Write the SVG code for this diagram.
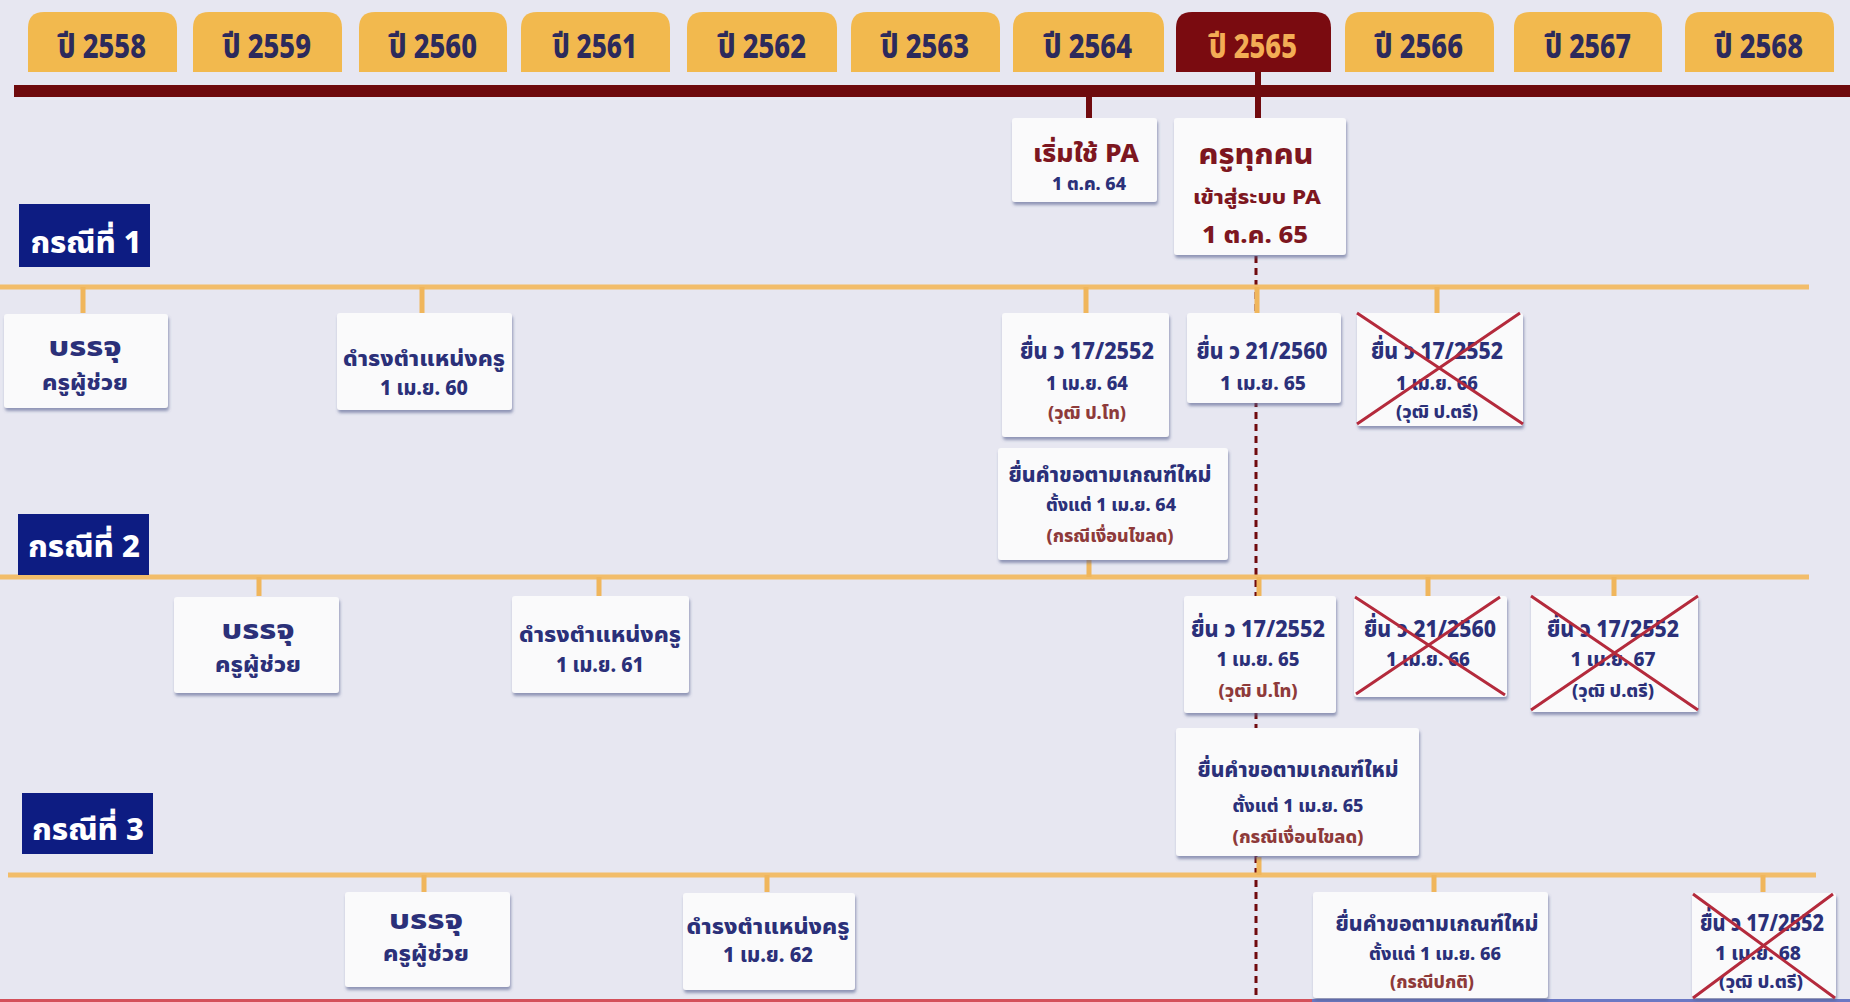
<svg xmlns="http://www.w3.org/2000/svg" width="1850" height="1002" viewBox="0 0 1850 1002">
<defs>
<filter id="sh" x="-10%" y="-10%" width="120%" height="130%">
<feDropShadow dx="1" dy="3" stdDeviation="1.8" flood-color="#56608f" flood-opacity="0.6"/>
</filter>
<style>
text{font-family:"Noto Sans Thai","Noto Sans","DejaVu Sans","Liberation Sans",sans-serif;font-weight:800;text-anchor:middle}
.tab{fill:#f2b94e}
.tabt{fill:#2c2a5c;font-size:34px}
.cur{fill:#7a0b10}
.curt{fill:#f3ad55;font-size:34px}
.box{fill:#fafafb;filter:url(#sh)}
.case{fill:#0d1c82}
.caset{fill:#ffffff;font-size:30px}
.n{fill:#2b3079}
.m{fill:#7d1620}
.p{fill:#8e3a3a}
.ol{stroke:#f2bd6a;stroke-width:5;fill:none}
.tk{stroke:#f0b65c;stroke-width:5;fill:none}
.ml{stroke:#700a0e;stroke-width:6;fill:none}
.x{stroke:#b42a3c;stroke-width:3;fill:none}
</style>
</defs>
<rect x="0" y="0" width="1850" height="1002" fill="#e7e7f1"/>

<g id="year-tabs">
<g id="tab-2558"><path class="tab" d="M28,72V28Q28,12 44,12H161Q177,12 177,28V72Z"/><text class="tabt" x="102" y="58" textLength="88" lengthAdjust="spacingAndGlyphs">ปี 2558</text></g>
<g id="tab-2559"><path class="tab" d="M193,72V28Q193,12 209,12H326Q342,12 342,28V72Z"/><text class="tabt" x="267" y="58" textLength="88" lengthAdjust="spacingAndGlyphs">ปี 2559</text></g>
<g id="tab-2560"><path class="tab" d="M359,72V28Q359,12 375,12H491Q507,12 507,28V72Z"/><text class="tabt" x="433" y="58" textLength="88" lengthAdjust="spacingAndGlyphs">ปี 2560</text></g>
<g id="tab-2561"><path class="tab" d="M521,72V28Q521,12 537,12H654Q670,12 670,28V72Z"/><text class="tabt" x="595" y="58" textLength="84" lengthAdjust="spacingAndGlyphs">ปี 2561</text></g>
<g id="tab-2562"><path class="tab" d="M687,72V28Q687,12 703,12H821Q837,12 837,28V72Z"/><text class="tabt" x="762" y="58" textLength="88" lengthAdjust="spacingAndGlyphs">ปี 2562</text></g>
<g id="tab-2563"><path class="tab" d="M851,72V28Q851,12 867,12H984Q1000,12 1000,28V72Z"/><text class="tabt" x="925" y="58" textLength="88" lengthAdjust="spacingAndGlyphs">ปี 2563</text></g>
<g id="tab-2564"><path class="tab" d="M1013,72V28Q1013,12 1029,12H1148Q1164,12 1164,28V72Z"/><text class="tabt" x="1088" y="58" textLength="88" lengthAdjust="spacingAndGlyphs">ปี 2564</text></g>
<g id="tab-2565"><path class="cur" d="M1176,72V28Q1176,12 1192,12H1315Q1331,12 1331,28V72Z"/><text class="curt" x="1253" y="58" textLength="88" lengthAdjust="spacingAndGlyphs">ปี 2565</text></g>
<g id="tab-2566"><path class="tab" d="M1345,72V28Q1345,12 1361,12H1478Q1494,12 1494,28V72Z"/><text class="tabt" x="1419" y="58" textLength="88" lengthAdjust="spacingAndGlyphs">ปี 2566</text></g>
<g id="tab-2567"><path class="tab" d="M1514,72V28Q1514,12 1530,12H1646Q1662,12 1662,28V72Z"/><text class="tabt" x="1588" y="58" textLength="86" lengthAdjust="spacingAndGlyphs">ปี 2567</text></g>
<g id="tab-2568"><path class="tab" d="M1685,72V28Q1685,12 1701,12H1818Q1834,12 1834,28V72Z"/><text class="tabt" x="1759" y="58" textLength="88" lengthAdjust="spacingAndGlyphs">ปี 2568</text></g>
</g>

<g id="connectors">
<rect x="14" y="85" width="1836" height="12" fill="#6e0a0d"/>
<line class="ml" x1="1089" y1="97" x2="1089" y2="118"/>
<line class="ml" x1="1258" y1="72" x2="1258" y2="118"/>
<line x1="1256" y1="256" x2="1256" y2="1002" stroke="#700a0e" stroke-width="3" stroke-dasharray="7 5"/>
<line class="ol" x1="0" y1="287" x2="1809" y2="287"/>
<line class="ol" x1="0" y1="577" x2="1809" y2="577"/>
<line class="ol" x1="8" y1="875" x2="1816" y2="875"/>
<path class="tk" d="M83,287V313M422,287V313M1086,287V313M1257,287V313M1437,287V313M1089,560V577"/>
<path class="tk" d="M259,577V596M599,577V596M1259,577V596M1428,577V596M1614,577V596M1259,857V875"/>
<path class="tk" d="M424,875V892M767,875V892M1434,875V892M1763,875V892"/>
<rect x="0" y="999" width="1312" height="3" fill="#d4505a"/>
<rect x="1312" y="999" width="538" height="3" fill="#6b78c4"/>
</g>

<g id="pa-start"><rect class="box" x="1012" y="118" width="145" height="84" rx="3"/>
<text class="m" x="1086" y="162" font-size="25" textLength="106" lengthAdjust="spacingAndGlyphs">เริ่มใช้ PA</text>
<text class="n" x="1089" y="190" font-size="17" textLength="74" lengthAdjust="spacingAndGlyphs">1 ต.ค. 64</text></g>

<g id="pa-all"><rect class="box" x="1174" y="118" width="172" height="137" rx="3"/>
<text class="m" x="1256" y="164" font-size="29" textLength="115" lengthAdjust="spacingAndGlyphs">ครูทุกคน</text>
<text class="m" x="1257" y="204" font-size="20" textLength="128" lengthAdjust="spacingAndGlyphs">เข้าสู่ระบบ PA</text>
<text class="m" x="1255" y="243" font-size="23" textLength="106" lengthAdjust="spacingAndGlyphs">1 ต.ค. 65</text></g>

<g id="case-1"><rect class="case" x="19" y="204" width="131" height="63"/><text class="caset" x="86" y="253" textLength="111" lengthAdjust="spacingAndGlyphs">กรณีที่ 1</text></g>
<g id="case-2"><rect class="case" x="18" y="514" width="131" height="61"/><text class="caset" x="84" y="557" textLength="112" lengthAdjust="spacingAndGlyphs">กรณีที่ 2</text></g>
<g id="case-3"><rect class="case" x="22" y="793" width="131" height="61"/><text class="caset" x="88" y="840" textLength="112" lengthAdjust="spacingAndGlyphs">กรณีที่ 3</text></g>

<g id="c1-appoint"><rect class="box" x="4" y="314" width="164" height="94" rx="3"/>
<text class="n" x="85" y="356" font-size="27" textLength="73" lengthAdjust="spacingAndGlyphs">บรรจุ</text>
<text class="n" x="85" y="390" font-size="22" textLength="86" lengthAdjust="spacingAndGlyphs">ครูผู้ช่วย</text></g>
<g id="c1-teacher"><rect class="box" x="337" y="313" width="175" height="97" rx="3"/>
<text class="n" x="424" y="366" font-size="21" textLength="162" lengthAdjust="spacingAndGlyphs">ดำรงตำแหน่งครู</text>
<text class="n" x="424" y="395" font-size="21" textLength="88" lengthAdjust="spacingAndGlyphs">1 เม.ย. 60</text></g>
<g id="c1-v17"><rect class="box" x="1002" y="313" width="167" height="124" rx="3"/>
<text class="n" x="1087" y="359" font-size="23" textLength="134" lengthAdjust="spacingAndGlyphs">ยื่น ว 17/2552</text>
<text class="n" x="1087" y="390" font-size="19" textLength="82" lengthAdjust="spacingAndGlyphs">1 เม.ย. 64</text>
<text class="p" x="1087" y="419" font-size="17" textLength="78" lengthAdjust="spacingAndGlyphs">(วุฒิ ป.โท)</text></g>
<g id="c1-v21"><rect class="box" x="1187" y="313" width="154" height="90" rx="3"/>
<text class="n" x="1262" y="359" font-size="23" textLength="131" lengthAdjust="spacingAndGlyphs">ยื่น ว 21/2560</text>
<text class="n" x="1263" y="390" font-size="19" textLength="86" lengthAdjust="spacingAndGlyphs">1 เม.ย. 65</text></g>
<g id="c1-v17-cancel"><rect class="box" x="1357" y="313" width="166" height="113" rx="3"/>
<text class="n" x="1437" y="359" font-size="23" textLength="132" lengthAdjust="spacingAndGlyphs">ยื่น ว 17/2552</text>
<text class="n" x="1437" y="390" font-size="19" textLength="82" lengthAdjust="spacingAndGlyphs">1 เม.ย. 66</text>
<text class="n" x="1437" y="418" font-size="17" textLength="82" lengthAdjust="spacingAndGlyphs">(วุฒิ ป.ตรี)</text>
<path class="x" d="M1357,313L1523,424M1357,424L1520,313"/></g>
<g id="c1-new"><rect class="box" x="998" y="448" width="230" height="112" rx="3"/>
<text class="n" x="1110" y="482" font-size="21" textLength="203" lengthAdjust="spacingAndGlyphs">ยื่นคำขอตามเกณฑ์ใหม่</text>
<text class="n" x="1111" y="511" font-size="18" textLength="130" lengthAdjust="spacingAndGlyphs">ตั้งแต่ 1 เม.ย. 64</text>
<text class="p" x="1110" y="542" font-size="17" textLength="127" lengthAdjust="spacingAndGlyphs">(กรณีเงื่อนไขลด)</text></g>

<g id="c2-appoint"><rect class="box" x="174" y="597" width="165" height="96" rx="3"/>
<text class="n" x="258" y="639" font-size="27" textLength="73" lengthAdjust="spacingAndGlyphs">บรรจุ</text>
<text class="n" x="258" y="672" font-size="22" textLength="86" lengthAdjust="spacingAndGlyphs">ครูผู้ช่วย</text></g>
<g id="c2-teacher"><rect class="box" x="512" y="596" width="177" height="97" rx="3"/>
<text class="n" x="600" y="642" font-size="21" textLength="162" lengthAdjust="spacingAndGlyphs">ดำรงตำแหน่งครู</text>
<text class="n" x="600" y="672" font-size="21" textLength="88" lengthAdjust="spacingAndGlyphs">1 เม.ย. 61</text></g>
<g id="c2-v17"><rect class="box" x="1184" y="596" width="152" height="117" rx="3"/>
<text class="n" x="1258" y="637" font-size="23" textLength="134" lengthAdjust="spacingAndGlyphs">ยื่น ว 17/2552</text>
<text class="n" x="1258" y="666" font-size="19" textLength="83" lengthAdjust="spacingAndGlyphs">1 เม.ย. 65</text>
<text class="p" x="1258" y="697" font-size="17" textLength="79" lengthAdjust="spacingAndGlyphs">(วุฒิ ป.โท)</text></g>
<g id="c2-v21-cancel"><rect class="box" x="1354" y="596" width="153" height="101" rx="3"/>
<text class="n" x="1430" y="637" font-size="23" textLength="132" lengthAdjust="spacingAndGlyphs">ยื่น ว 21/2560</text>
<text class="n" x="1428" y="666" font-size="19" textLength="84" lengthAdjust="spacingAndGlyphs">1 เม.ย. 66</text>
<path class="x" d="M1355,597L1505,695M1356,694L1500,597"/></g>
<g id="c2-v17-cancel"><rect class="box" x="1531" y="596" width="167" height="116" rx="3"/>
<text class="n" x="1613" y="637" font-size="23" textLength="132" lengthAdjust="spacingAndGlyphs">ยื่น ว 17/2552</text>
<text class="n" x="1613" y="666" font-size="19" textLength="85" lengthAdjust="spacingAndGlyphs">1 เม.ย. 67</text>
<text class="n" x="1613" y="697" font-size="17" textLength="82" lengthAdjust="spacingAndGlyphs">(วุฒิ ป.ตรี)</text>
<path class="x" d="M1531,596L1698,710M1531,710L1698,596"/></g>
<g id="c2-new"><rect class="box" x="1176" y="728" width="243" height="128" rx="3"/>
<text class="n" x="1298" y="777" font-size="21" textLength="201" lengthAdjust="spacingAndGlyphs">ยื่นคำขอตามเกณฑ์ใหม่</text>
<text class="n" x="1298" y="812" font-size="18" textLength="131" lengthAdjust="spacingAndGlyphs">ตั้งแต่ 1 เม.ย. 65</text>
<text class="p" x="1298" y="843" font-size="17" textLength="131" lengthAdjust="spacingAndGlyphs">(กรณีเงื่อนไขลด)</text></g>

<g id="c3-appoint"><rect class="box" x="345" y="892" width="165" height="95" rx="3"/>
<text class="n" x="426" y="929" font-size="27" textLength="74" lengthAdjust="spacingAndGlyphs">บรรจุ</text>
<text class="n" x="426" y="961" font-size="22" textLength="86" lengthAdjust="spacingAndGlyphs">ครูผู้ช่วย</text></g>
<g id="c3-teacher"><rect class="box" x="683" y="893" width="172" height="97" rx="3"/>
<text class="n" x="768" y="934" font-size="21" textLength="163" lengthAdjust="spacingAndGlyphs">ดำรงตำแหน่งครู</text>
<text class="n" x="768" y="962" font-size="21" textLength="90" lengthAdjust="spacingAndGlyphs">1 เม.ย. 62</text></g>
<g id="c3-new"><rect class="box" x="1313" y="892" width="235" height="106" rx="3"/>
<text class="n" x="1437" y="931" font-size="21" textLength="203" lengthAdjust="spacingAndGlyphs">ยื่นคำขอตามเกณฑ์ใหม่</text>
<text class="n" x="1435" y="960" font-size="18" textLength="132" lengthAdjust="spacingAndGlyphs">ตั้งแต่ 1 เม.ย. 66</text>
<text class="p" x="1432" y="988" font-size="17" textLength="84" lengthAdjust="spacingAndGlyphs">(กรณีปกติ)</text></g>
<g id="c3-v17-cancel"><rect class="box" x="1692" y="893" width="144" height="105" rx="3"/>
<text class="n" x="1762" y="931" font-size="23" textLength="124" lengthAdjust="spacingAndGlyphs">ยื่น ว 17/2552</text>
<text class="n" x="1758" y="960" font-size="19" textLength="86" lengthAdjust="spacingAndGlyphs">1 เม.ย. 68</text>
<text class="n" x="1761" y="988" font-size="17" textLength="84" lengthAdjust="spacingAndGlyphs">(วุฒิ ป.ตรี)</text>
<path class="x" d="M1693,894L1835,998M1693,998L1833,894"/></g>
</svg>
